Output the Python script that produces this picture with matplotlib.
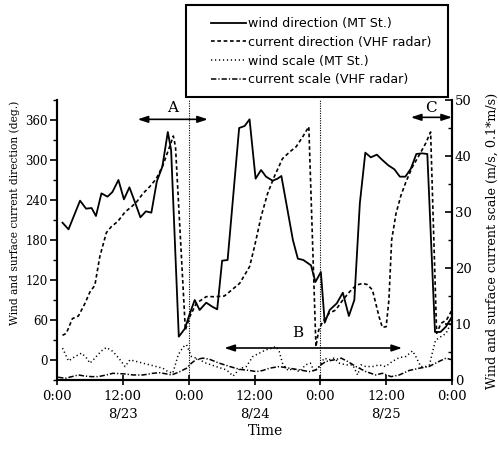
"""
Wind and surface current direction / scale, MT St. vs VHF radar, 23-25 Aug.
"""

import matplotlib
matplotlib.use("Agg")
import matplotlib.pyplot as plt
from matplotlib.lines import Line2D
from matplotlib.patches import Rectangle

# hours since 8/23 0:00
wind_dir_h = [1.0, 2.1, 4.2, 5.3, 6.3, 7.1, 8.1, 9.2, 10.1, 11.2,
              12.2, 13.2, 14.2, 15.2, 16.2, 17.2, 18.2, 19.2, 20.2, 20.8,
              22.2, 23.3, 24.1, 25.1, 26.0, 27.2, 28.3, 29.2, 30.1, 31.1,
              33.2, 34.2, 35.1, 36.2, 37.2, 38.1, 39.3, 40.2, 40.9, 43.0,
              43.9, 44.9, 46.3, 47.1, 48.1, 48.8, 49.7, 51.0, 52.1, 53.2,
              54.2, 55.2, 56.2, 57.2, 58.3, 59.3, 60.4, 61.5, 62.5, 63.5,
              64.5, 65.5, 66.5, 67.5, 68.9, 69.9, 70.9, 72.0]
wind_dir = [206, 196, 239, 227, 228, 216, 250, 245, 252, 270,
            241, 259, 237, 214, 223, 221, 268, 290, 342, 315,
            35, 47, 67, 90, 75, 86, 80, 76, 149, 150,
            348, 351, 361, 272, 285, 275, 269, 272, 276, 180,
            152, 150, 142, 117, 132, 56, 75, 85, 101, 66,
            90, 235, 311, 304, 308, 300, 292, 286, 275, 275,
            287, 309, 310, 309, 42, 42, 50, 65]

cur_dir_h = [1.0, 1.7, 2.8, 3.9, 5.1, 6.0, 6.9, 7.8, 9.0, 9.9,
             11.1, 12.4, 13.6, 14.5, 15.7, 16.9, 18.1, 19.3, 20.4, 21.2,
             21.6, 23.4, 24.2, 25.4, 27.2, 29.0, 30.5, 31.1, 33.3, 35.1,
             36.0, 37.2, 38.4, 39.6, 41.1, 42.4, 43.6, 44.8, 45.9, 47.2,
             47.7, 48.4, 49.6, 50.8, 52.1, 53.3, 54.5, 55.7, 56.6, 57.5,
             58.7, 59.3, 60.0, 60.5, 61.0, 61.8, 62.7, 63.6, 64.8, 66.0,
             67.2, 68.1, 69.2, 70.0, 71.0, 72.0]
cur_dir = [37, 40, 62, 66, 85, 102, 112, 155, 191, 200,
           208, 222, 230, 237, 250, 260, 272, 292, 317, 336,
           320, 45, 65, 85, 95, 95, 96, 100, 115, 140,
           170, 215, 250, 275, 302, 312, 320, 335, 350, 20,
           45, 57, 70, 75, 90, 102, 112, 115, 113, 105,
           65, 49, 50, 90, 180, 220, 247, 267, 290, 307,
           325, 342, 40, 55, 60, 75]

wind_sc_h = [1.0, 2.1, 3.3, 4.5, 5.4, 6.0, 6.9, 8.1, 9.0, 10.2,
             11.5, 12.4, 13.3, 14.5, 15.7, 16.9, 18.1, 19.3, 20.2, 21.1,
             22.1, 23.0, 23.6, 24.5, 25.4, 27.2, 29.0, 30.9, 32.1, 33.3,
             34.5, 35.7, 36.9, 38.1, 39.3, 39.9, 40.5, 41.1, 42.1, 43.0,
             44.2, 45.3, 46.2, 46.9, 47.8, 48.7, 49.6, 50.5, 51.5, 52.7,
             53.9, 54.8, 55.4, 56.3, 57.5, 58.7, 59.9, 61.1, 62.4, 63.6,
             64.8, 65.4, 66.3, 67.2, 67.9, 68.4, 69.0, 69.9, 70.9, 71.5,
             72.0]
wind_sc = [5.7, 3.4, 4.2, 4.8, 3.9, 3.0, 3.9, 5.2, 5.8, 5.1,
           3.6, 2.4, 3.6, 3.3, 3.0, 2.7, 2.4, 2.1, 1.5, 1.2,
           4.5, 5.9, 6.3, 4.2, 3.9, 3.0, 2.4, 1.8, 0.7, 2.0,
           2.4, 4.2, 4.8, 5.4, 5.7, 6.0, 5.1, 3.0, 1.7, 2.0,
           1.5, 2.7, 3.0, 1.5, 2.4, 3.9, 3.6, 3.9, 3.0, 2.7,
           2.7, 0.9, 2.7, 2.4, 2.4, 2.7, 2.4, 3.3, 4.0, 4.2,
           5.2, 4.2, 2.4, 2.4, 2.7, 4.8, 7.1, 7.7, 8.3, 9.5,
           11.0]

cur_sc_h = [0.2, 1.5, 2.7, 3.9, 5.1, 6.3, 7.5, 9.0, 10.2, 12.1,
            13.9, 15.7, 17.5, 18.7, 19.9, 20.9, 22.4, 23.6, 24.5, 25.4,
            26.6, 27.8, 29.6, 31.5, 33.3, 35.1, 36.3, 37.5, 38.7, 40.5,
            42.4, 44.2, 46.0, 47.2, 48.1, 49.0, 50.5, 51.8, 53.0, 54.5,
            56.3, 58.1, 59.3, 60.9, 62.4, 64.2, 66.0, 67.8, 69.6, 70.9,
            72.0]
cur_sc = [0.5, 0.3, 0.6, 0.9, 0.7, 0.6, 0.6, 0.9, 1.2, 1.1,
          0.9, 0.9, 1.2, 1.3, 1.1, 0.9, 1.5, 2.1, 3.0, 3.7,
          3.9, 3.7, 3.0, 2.4, 1.9, 1.7, 1.5, 1.7, 2.1, 2.4,
          2.1, 1.8, 1.5, 1.8, 2.7, 3.3, 3.6, 3.9, 3.3, 2.4,
          1.5, 0.9, 1.2, 0.6, 0.9, 1.7, 2.1, 2.4, 3.3, 3.9,
          3.6]

x_ticks = [0, 12, 24, 36, 48, 60, 72]
x_labels = ["0:00", "12:00\n8/23", "0:00", "12:00\n8/24", "0:00",
            "12:00\n8/25", "0:00"]
day_marks = [24, 48]

# (label, start h, end h, level deg, text h, text deg)
periods = [("A", 14.7, 27.5, 361, 21.0, 378),
           ("B", 30.5, 62.9, 18, 43.8, 40),
           ("C", 64.5, 72.0, 364, 68.2, 378)]

legend_labels = ["wind direction (MT St.)", "current direction (VHF radar)",
                 "wind scale (MT St.)", "current scale (VHF radar)"]

SERIF = "DejaVu Serif"

styles = {
    "wd": dict(color="black", lw=1.3, ls="-"),
    "cd": dict(color="black", lw=1.2, ls=(0, (2.2, 1.6))),
    "ws": dict(color="black", lw=1.1, ls=(0, (0.8, 1.8))),
    "cs": dict(color="black", lw=1.1, ls=(0, (3.5, 1.3, 0.8, 1.3))),
}


def main():
    fig = plt.figure(figsize=(4.98, 4.49), dpi=100)
    ax = fig.add_axes([57 / 498, 69 / 449, 395 / 498, 280 / 449])
    ax2 = ax.twinx()

    ax.plot(wind_dir_h, wind_dir, **styles["wd"])
    ax.plot(cur_dir_h, cur_dir, **styles["cd"])
    ax2.plot(wind_sc_h, wind_sc, **styles["ws"])
    ax2.plot(cur_sc_h, cur_sc, **styles["cs"])

    for d in day_marks:
        ax.axvline(d, color="black", lw=0.8, ls=(0, (1, 1.2)))

    for name, h0, h1, lev, th, tv in periods:
        ax.annotate("", xy=(h1, lev), xytext=(h0, lev),
                    arrowprops=dict(arrowstyle="<|-|>,head_length=0.6,head_width=0.2",
                                    color="black", lw=1.2, shrinkA=0, shrinkB=0,
                                    mutation_scale=10))
        ax.text(th, tv, name, ha="center", va="center", fontsize=11,
                family=SERIF)

    ax.set_xlim(0, 72)
    ax.set_ylim(-30, 390)
    ax2.set_ylim(0, 50)

    ax.set_xticks(x_ticks)
    ax.set_xticklabels(x_labels, family=SERIF, fontsize=9.5, linespacing=1.5)
    ax.set_yticks(range(0, 361, 60))
    ax.set_yticks(range(-30, 391, 30), minor=True)
    ax.set_yticklabels([str(v) for v in range(0, 361, 60)], family=SERIF,
                       fontsize=8.5)
    ax2.set_yticks(range(0, 51, 10))
    ax2.set_yticks(range(5, 50, 10), minor=True)
    ax2.set_yticklabels([str(v) for v in range(0, 51, 10)], family=SERIF,
                        fontsize=9.5)

    ax.tick_params(axis="x", direction="inout", length=7, width=1.2, pad=3.5)
    ax.tick_params(axis="y", which="major", direction="out", length=5,
                   width=1.2, pad=1.5)
    ax.tick_params(axis="y", which="minor", direction="out", length=3,
                   width=1)
    ax2.tick_params(axis="y", which="major", direction="in", length=5,
                    width=1.2, pad=2)
    ax2.tick_params(axis="y", which="minor", direction="in", length=3,
                    width=1)

    for a in (ax, ax2):
        a.spines["top"].set_visible(False)
        for s in ("left", "right", "bottom"):
            a.spines[s].set_linewidth(1.5)

    fig.text(15 / 498, 1 - 213 / 449,
             "Wind and surface current direction (deg.)", rotation=90,
             ha="center", va="center", family=SERIF, fontsize=7.7)
    fig.text(492 / 498, 1 - 241 / 449,
             "Wind and surface current scale (m/s, 0.1*m/s)", rotation=90,
             ha="center", va="center", family=SERIF, fontsize=9.2)
    fig.text(266 / 498, 1 - 431 / 449, "Time", ha="center", va="center",
             family=SERIF, fontsize=10)

    # legend box at top
    fig.patches.append(Rectangle((186 / 498, 1 - 97 / 449), 262 / 498,
                                 92 / 449, transform=fig.transFigure,
                                 fill=False, lw=1.5, ec="black"))
    handles = [Line2D([], [], **styles[k]) for k in ("wd", "cd", "ws", "cs")]
    fig.legend(handles, legend_labels, loc="upper left",
               bbox_to_anchor=(211 / 498, 1 - 17 / 449), frameon=False,
               handlelength=2.8, handletextpad=0.15, labelspacing=0.46,
               borderpad=0, borderaxespad=0,
               prop=dict(family="DejaVu Sans", size=9.1))

    fig.savefig("out.png", dpi=100)


if __name__ == "__main__":
    main()
